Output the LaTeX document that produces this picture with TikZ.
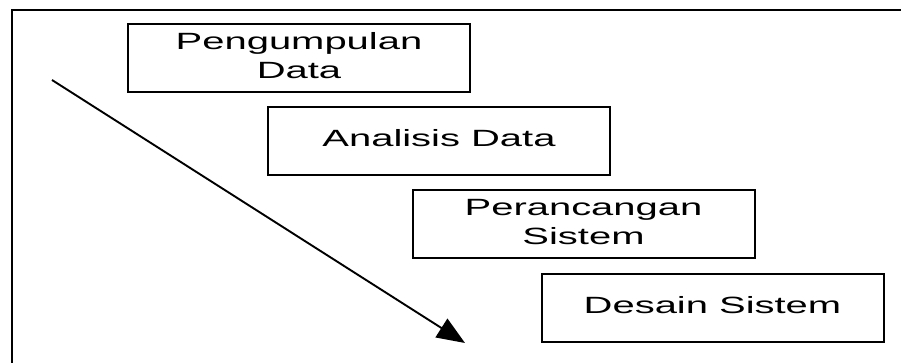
\documentclass[tikz,border=0pt]{standalone}
\usepackage{fontspec}
\setmainfont{Liberation Sans}
\usetikzlibrary{arrows.meta}
\tikzset{
  stepbox/.style={draw=black, line width=2pt, minimum width=342pt, minimum height=68pt, inner sep=0pt, font=\fontsize{23.5}{29}\selectfont},
  frameline/.style={draw=black, line width=2.6pt},
  flowarrow/.style={draw=black, line width=1.9pt, -{Triangle[length=28pt, width=22pt]}}
}
\newcommand{\wtext}[1]{\scalebox{1.7}[1]{\begin{tabular}{@{}c@{}}#1\end{tabular}}}
\begin{document}
\begin{tikzpicture}[x=1pt, y=-1pt]
  \useasboundingbox (0,0) rectangle (901,363);
  \fill[white] (0,0) rectangle (901,363);
  \draw[frameline] (12,363) -- (12,10) -- (901,10);
  \node[stepbox] (b1) at (299,58) {\wtext{Pengumpulan\\Data}};
  \node[stepbox] (b2) at (439,141) {\wtext{Analisis Data}};
  \node[stepbox] (b3) at (583.5,224) {\wtext{Perancangan\\Sistem}};
  \node[stepbox] (b4) at (712.5,307.5) {\wtext{Desain Sistem}};
  \coordinate (as) at (52,80);
  \coordinate (ae) at (465,343);
  \draw[flowarrow] (as) -- (ae);
\end{tikzpicture}
\end{document}
